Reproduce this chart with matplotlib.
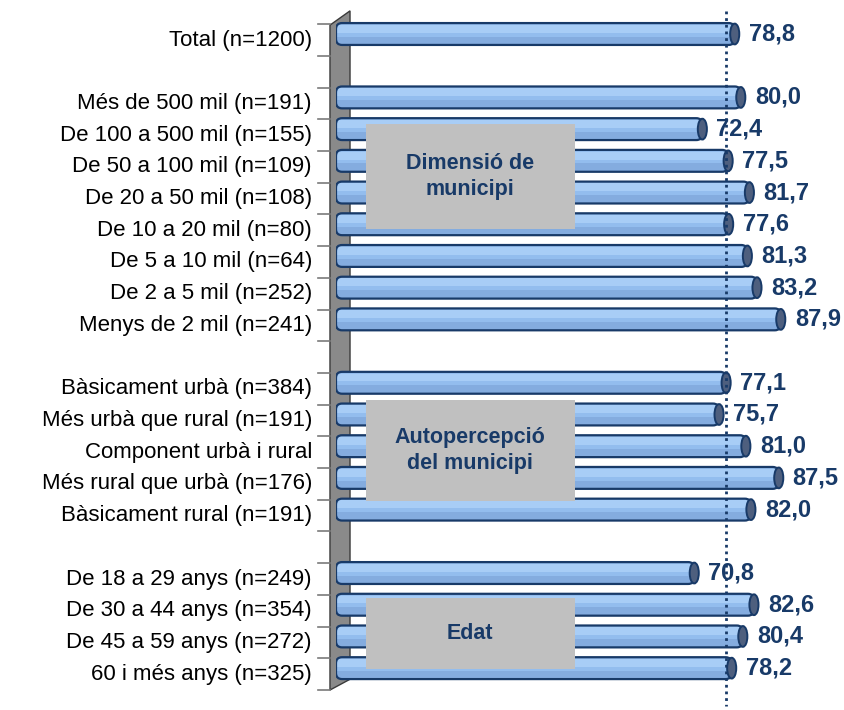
import matplotlib

matplotlib.use("Agg")
import matplotlib.pyplot as plt
from matplotlib.patches import Ellipse, FancyBboxPatch, Polygon, Rectangle
from matplotlib.transforms import offset_copy

# --- data -------------------------------------------------------------------
TOTAL_LABEL = "Total (n=1200)"
TOTAL_VALUE = 78.8

MUNICIPI_LABELS = [
    "Més de 500 mil (n=191)",
    "De 100 a 500 mil (n=155)",
    "De 50 a 100 mil (n=109)",
    "De 20 a 50 mil (n=108)",
    "De 10 a 20 mil (n=80)",
    "De 5 a 10 mil (n=64)",
    "De 2 a 5 mil (n=252)",
    "Menys de 2 mil (n=241)",
]
MUNICIPI_VALUES = [80.0, 72.4, 77.5, 81.7, 77.6, 81.3, 83.2, 87.9]

AUTOPERCEPCIO_LABELS = [
    "Bàsicament urbà (n=384)",
    "Més urbà que rural (n=191)",
    "Component urbà i rural",
    "Més rural que urbà (n=176)",
    "Bàsicament rural (n=191)",
]
AUTOPERCEPCIO_VALUES = [77.1, 75.7, 81.0, 87.5, 82.0]

EDAT_LABELS = [
    "De 18 a 29 anys (n=249)",
    "De 30 a 44 anys (n=354)",
    "De 45 a 59 anys (n=272)",
    "60 i més anys (n=325)",
]
EDAT_VALUES = [70.8, 82.6, 80.4, 78.2]

GROUP_TITLES = ["Dimensió de\nmunicipi", "Autopercepció\ndel municipi", "Edat"]

# --- style / layout ---------------------------------------------------------
FONT = "Liberation Sans"
NAVY = "#183a68"
BAR_LIGHT = "#a8cdf6"
BAR_MID = "#93bdee"
BAR_DARK = "#84acdf"
CAP_COLOR = "#4e5f7e"
WALL_COLOR = "#8a8a8a"
BOX_COLOR = "#c0c0c0"
BAR_HEIGHT = 0.69
# box extents (x0, x1, first-row offset, last-row offset) per group
BOX_EXTENTS = [(5.9, 47.2, 0.84, 4.15), (5.9, 47.2, 0.55, 3.73), (5.9, 47.2, 0.79, 3.03)]


def _build_rows():
    rows = [(TOTAL_LABEL, TOTAL_VALUE)]
    groups = [
        (MUNICIPI_LABELS, MUNICIPI_VALUES),
        (AUTOPERCEPCIO_LABELS, AUTOPERCEPCIO_VALUES),
        (EDAT_LABELS, EDAT_VALUES),
    ]
    group_starts = []
    for labels, values in groups:
        rows.append(None)
        group_starts.append(len(rows))
        rows.extend(zip(labels, values))
    return rows, group_starts


def _draw_cylinder(ax, y, value):
    h = BAR_HEIGHT
    body = FancyBboxPatch(
        (0, y - h / 2), value, h,
        boxstyle="round,pad=0,rounding_size=1.2", mutation_aspect=0.16,
        facecolor=BAR_MID, edgecolor="none", zorder=3,
    )
    ax.add_patch(body)
    top = y - h / 2
    for start, frac, color in [(0.08, 0.36, BAR_LIGHT), (0.62, 0.38, BAR_DARK)]:
        band = Rectangle((0, top + start * h), value, frac * h,
                         facecolor=color, edgecolor="none", zorder=4)
        ax.add_patch(band)
        band.set_clip_path(body)
    outline = FancyBboxPatch(
        (0, y - h / 2), value, h,
        boxstyle="round,pad=0,rounding_size=1.2", mutation_aspect=0.16,
        facecolor="none", edgecolor=NAVY, linewidth=1.6, zorder=5,
    )
    ax.add_patch(outline)
    cap = Ellipse((value, y), 1.8, h * 0.95, facecolor=CAP_COLOR,
                  edgecolor=NAVY, linewidth=1.4, zorder=6)
    ax.add_patch(cap)


def main():
    rows, group_starts = _build_rows()
    n_rows = len(rows)

    fig = plt.figure(figsize=(8.45, 7.1), dpi=100)
    ax = fig.add_axes([336 / 845, 1 - 684 / 710, 506 / 845, (684 - 18.15) / 710])
    ax.set_xlim(0, 100)
    ax.set_ylim(n_rows - 0.5, -0.5)
    ax.axis("off")

    ytrans = ax.get_yaxis_transform()

    # side wall
    wall = Polygon(
        [(-0.0119, -0.28), (0.0277, -0.73), (0.0277, n_rows - 0.65), (-0.0119, n_rows - 0.31)],
        closed=True, transform=ytrans, facecolor=WALL_COLOR, edgecolor="#3a3a3a",
        linewidth=1.0, zorder=1, clip_on=False,
    )
    ax.add_patch(wall)

    # category ticks
    for k in range(n_rows + 1):
        yb = k - 0.5 + 0.19
        ax.plot([-0.0356, -0.0119], [yb, yb], transform=ytrans, color="#7a7a7a",
                linewidth=1.2, clip_on=False, zorder=1)

    # average reference line (drawn on the back plane)
    back = offset_copy(ax.transData, fig=fig, x=-9, y=0, units="dots")
    ax.plot([TOTAL_VALUE, TOTAL_VALUE], [-0.73, n_rows + 0.2], transform=back,
            color=NAVY, linewidth=2.0, linestyle=(0, (1, 1.4)), clip_on=False, zorder=7)

    for i, row in enumerate(rows):
        if row is None:
            continue
        label, value = row
        _draw_cylinder(ax, i, value)
        ax.annotate(label, xy=(0, i), xytext=(-24, -6), textcoords="offset pixels",
                    ha="right", va="center", fontsize=16, family=FONT,
                    color="black", annotation_clip=False)
        ax.annotate(f"{value:.1f}".replace(".", ","), xy=(value, i), xytext=(14, 0),
                    textcoords="offset pixels", ha="left", va="center",
                    fontsize=17, fontweight="bold", family=FONT, color=NAVY,
                    annotation_clip=False, zorder=9)

    for start, title, (x0, x1, r0, r1) in zip(group_starts, GROUP_TITLES, BOX_EXTENTS):
        y0 = start + r0
        y1 = start + r1
        ax.add_patch(Rectangle((x0, y0), x1 - x0, y1 - y0, facecolor=BOX_COLOR,
                               edgecolor="none", zorder=8))
        ax.text((x0 + x1) / 2, (y0 + y1) / 2, title, ha="center", va="center",
                fontsize=15.5, fontweight="bold", family=FONT, color=NAVY,
                linespacing=1.3, zorder=9)

    fig.savefig("out.png", dpi=100)
    plt.close(fig)


if __name__ == "__main__":
    main()
